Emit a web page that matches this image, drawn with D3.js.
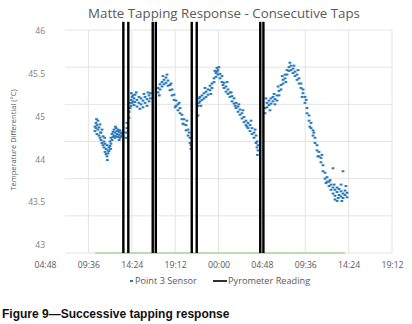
<!DOCTYPE html>
<html>
<head>
<meta charset="utf-8">
<script src="https://cdn.jsdelivr.net/npm/d3@7"></script>
<style>
  body { margin: 0; background: #fff; }
  svg { display: block; }
</style>
</head>
<body>
<script>
// chart values (time in hours from start of day 1, temperature in degC)
var xTickHours = [4.8, 9.6, 14.4, 19.2, 24, 28.8, 33.6, 38.4, 43.2];
var yGridValues = [43, 43.5, 44, 44.5, 45, 45.5, 46];
var yTickLabels = ["46", "45.5", "45", "44", "43.5", "43"];

// Pyrometer reading taps (pairs of vertical lines)
var pyroHours = [13.47, 14.02, 16.72, 17.06, 21.04, 21.59, 28.62, 28.97];
var pyroRange = [43, 46.11];

// green base line
var baseHours = [10.33, 38.0];
var baseValue = 43;

// Point 3 Sensor readings [hour, degC]
var sensorPoints = [
  [10.33, 44.70], [10.33, 44.64], [10.44, 44.75], [10.44, 44.68], [10.55, 44.72], [10.55, 44.60],
  [10.66, 44.78], [10.66, 44.66], [10.77, 44.69], [10.77, 44.58], [10.89, 44.73], [10.89, 44.55],
  [11.00, 44.62], [11.00, 44.52], [11.11, 44.66], [11.11, 44.48], [11.22, 44.57], [11.22, 44.45],
  [11.33, 44.50], [11.33, 44.42], [11.44, 44.47], [11.44, 44.36], [11.55, 44.40], [11.55, 44.33],
  [11.66, 44.45], [11.66, 44.30], [11.77, 44.38], [11.77, 44.34], [11.88, 44.42], [11.88, 44.37],
  [11.99, 44.50], [11.99, 44.44], [12.10, 44.55], [12.10, 44.47], [12.22, 44.60], [12.22, 44.52],
  [12.33, 44.63], [12.33, 44.56], [12.44, 44.58], [12.44, 44.66], [12.55, 44.62], [12.55, 44.55],
  [12.66, 44.68], [12.66, 44.57], [12.77, 44.60], [12.77, 44.64], [12.88, 44.66], [12.88, 44.56],
  [12.99, 44.59], [12.99, 44.63], [13.10, 44.65], [13.10, 44.55], [13.21, 44.61], [13.21, 44.57],
  [13.32, 44.58], [13.32, 44.62], [13.76, 44.55], [13.76, 44.62], [13.87, 44.68], [13.87, 44.75],
  [14.10, 44.82], [14.10, 44.90], [14.21, 44.95], [14.21, 45.02], [14.32, 45.06], [14.32, 44.98],
  [14.43, 45.10], [14.43, 45.02], [14.54, 45.04], [14.54, 45.12], [14.65, 45.08], [14.65, 44.99],
  [14.76, 45.13], [14.76, 45.03], [14.98, 45.06], [14.98, 44.97], [15.20, 45.10], [15.20, 45.02],
  [15.42, 45.00], [15.42, 45.08], [15.64, 45.05], [15.64, 44.96], [15.87, 45.02], [15.87, 45.10],
  [16.09, 45.07], [16.09, 44.98], [16.31, 45.12], [16.31, 45.04], [16.47, 45.15], [16.47, 45.08],
  [17.31, 45.16], [17.31, 45.22], [17.53, 45.20], [17.53, 45.27], [17.75, 45.30], [17.75, 45.24],
  [17.97, 45.33], [17.97, 45.27], [18.19, 45.36], [18.19, 45.29], [18.41, 45.32], [18.41, 45.25],
  [18.63, 45.26], [18.63, 45.19], [18.86, 45.20], [18.86, 45.12], [19.08, 45.13], [19.08, 45.06],
  [19.30, 45.05], [19.30, 44.98], [19.52, 45.00], [19.52, 44.92], [19.74, 44.95], [19.74, 44.88],
  [19.96, 44.86], [19.96, 44.80], [20.18, 44.80], [20.18, 44.73], [20.41, 44.72], [20.41, 44.65],
  [20.63, 44.66], [20.63, 44.58], [20.85, 44.55], [20.85, 44.48], [20.96, 44.45], [20.96, 44.40],
  [21.73, 44.85], [21.73, 44.98], [21.84, 45.02], [21.84, 45.08], [21.95, 45.10], [21.95, 45.04],
  [22.18, 45.12], [22.18, 45.06], [22.40, 45.15], [22.40, 45.08], [22.62, 45.10], [22.62, 45.17],
  [22.84, 45.13], [22.84, 45.20], [23.06, 45.19], [23.06, 45.25], [23.28, 45.28], [23.28, 45.22],
  [23.50, 45.35], [23.50, 45.30], [23.72, 45.42], [23.72, 45.37], [23.83, 45.49], [23.83, 45.44],
  [23.94, 45.46], [23.94, 45.40], [24.17, 45.41], [24.17, 45.35], [24.39, 45.38], [24.39, 45.30],
  [24.61, 45.29], [24.61, 45.22], [24.83, 45.24], [24.83, 45.17], [25.05, 45.20], [25.05, 45.14],
  [25.27, 45.16], [25.27, 45.10], [25.50, 45.11], [25.50, 45.04], [25.72, 45.08], [25.72, 45.01],
  [25.94, 45.02], [25.94, 44.95], [26.16, 44.97], [26.16, 44.90], [26.38, 44.93], [26.38, 44.86],
  [26.60, 44.88], [26.60, 44.81], [26.82, 44.83], [26.82, 44.76], [27.04, 44.78], [27.04, 44.72],
  [27.27, 44.75], [27.27, 44.68], [27.49, 44.72], [27.49, 44.64], [27.71, 44.68], [27.71, 44.60],
  [27.93, 44.62], [27.93, 44.55], [28.15, 44.58], [28.15, 44.48], [28.26, 44.50], [28.26, 44.42],
  [28.37, 44.45], [28.37, 44.38], [29.15, 44.88], [29.15, 44.95], [29.37, 45.02], [29.37, 44.96],
  [29.59, 45.05], [29.59, 44.99], [29.81, 45.08], [29.81, 45.01], [30.03, 45.04], [30.03, 45.10],
  [30.25, 45.07], [30.25, 45.00], [30.47, 45.12], [30.47, 45.05], [30.70, 45.18], [30.70, 45.12],
  [30.92, 45.26], [30.92, 45.20], [31.14, 45.33], [31.14, 45.28], [31.36, 45.40], [31.36, 45.35],
  [31.58, 45.46], [31.58, 45.40], [31.80, 45.50], [31.80, 45.45], [32.02, 45.52], [32.02, 45.46],
  [32.25, 45.48], [32.25, 45.42], [32.47, 45.44], [32.47, 45.38], [32.69, 45.40], [32.69, 45.33],
  [32.91, 45.35], [32.91, 45.28], [33.13, 45.28], [33.13, 45.22], [33.35, 45.20], [33.35, 45.15],
  [33.57, 45.10], [33.57, 45.02], [33.79, 44.95], [33.79, 44.88], [34.02, 44.85], [34.02, 44.78],
  [34.24, 44.75], [34.24, 44.68], [34.46, 44.65], [34.46, 44.58], [34.68, 44.55], [34.68, 44.48],
  [34.90, 44.45], [34.90, 44.38], [35.12, 44.36], [35.12, 44.30], [35.34, 44.28], [35.34, 44.22],
  [35.56, 44.18], [35.56, 44.10], [35.79, 44.08], [35.79, 44.00], [36.01, 44.02], [36.01, 43.96],
  [36.23, 43.96], [36.23, 43.90], [36.45, 43.92], [36.45, 43.85], [36.67, 43.88], [36.67, 43.80],
  [36.67, 44.14], [36.89, 43.85], [36.89, 43.77], [36.89, 43.72], [37.12, 43.82], [37.12, 43.88],
  [37.12, 43.70], [37.34, 43.86], [37.34, 43.78], [37.56, 43.83], [37.56, 43.76], [37.56, 43.92],
  [37.78, 43.80], [37.78, 43.74], [37.78, 44.10], [38.00, 43.78], [38.00, 43.84], [38.22, 43.81],
  [38.22, 43.75],
  // extra scattered readings
  [10.50, 44.80], [10.95, 44.62], [11.40, 44.55], [11.70, 44.25], [12.05, 44.40], [12.60, 44.70],
  [13.00, 44.52], [14.35, 45.15], [14.90, 45.16], [15.30, 44.94], [15.75, 45.14], [16.20, 45.16],
  [17.45, 45.12], [17.85, 45.38], [18.30, 45.40], [18.75, 45.28], [19.20, 44.96], [19.65, 45.02],
  [20.05, 44.74], [20.50, 44.78], [20.75, 44.62], [22.05, 44.98], [22.50, 45.22], [23.15, 45.14],
  [23.60, 45.45], [24.05, 45.50], [24.50, 45.26], [24.95, 45.30], [25.40, 45.16], [25.85, 44.98],
  [26.25, 45.00], [26.70, 44.92], [27.15, 44.70], [27.60, 44.78], [28.05, 44.66], [28.30, 44.32],
  [29.25, 45.08], [29.70, 44.92], [30.15, 45.14], [30.60, 45.24], [31.05, 45.38], [31.45, 45.30],
  [31.90, 45.56], [32.35, 45.52], [32.80, 45.46], [33.25, 45.10], [33.70, 45.06], [34.10, 44.70],
  [34.55, 44.62], [35.00, 44.30], [35.45, 44.32], [35.90, 43.94], [36.35, 43.98], [36.80, 43.92],
  [37.25, 43.74], [37.65, 43.70], [38.10, 43.90]
];

// layout
var W = 412, H = 324;
var plotLeft = 65, plotRight = 392, plotTop = 30, plotBottom = 253;
var textGray = "#595959";

// scales
var x = d3.scaleLinear().domain([4.8, 43.2]).range([45, plotRight]);
var y = d3.scaleLinear().domain([43, 46]).range([plotBottom, plotTop]);
var yLabelPos = d3.scalePoint().domain(yTickLabels).range([31, 245]);

function hhmm(h) {
  var m = Math.round(h * 60) % 1440;
  return d3.format("02")(Math.floor(m / 60)) + ":" + d3.format("02")(m % 60);
}

var svg = d3.select("body").append("svg")
    .attr("width", W)
    .attr("height", H);

// gridlines
svg.append("g")
  .selectAll("line")
  .data(yGridValues)
  .enter().append("line")
  .attr("x1", plotLeft).attr("x2", plotRight)
  .attr("y1", function(d) { return y(d); })
  .attr("y2", function(d) { return y(d); })
  .attr("stroke", "#e4e4e4").attr("stroke-width", 1);

svg.append("g")
  .selectAll("line")
  .data(xTickHours.filter(function(d) { return x(d) > plotLeft; }))
  .enter().append("line")
  .attr("x1", function(d) { return x(d); })
  .attr("x2", function(d) { return x(d); })
  .attr("y1", plotTop).attr("y2", plotBottom)
  .attr("stroke", "#e4e4e4").attr("stroke-width", 1);

// green base line
svg.append("line")
  .attr("x1", x(baseHours[0])).attr("x2", x(baseHours[1]))
  .attr("y1", y(baseValue)).attr("y2", y(baseValue))
  .attr("stroke", "#8cc47a").attr("stroke-width", 1.2);

// sensor points (dash markers)
svg.append("g")
  .selectAll("rect")
  .data(sensorPoints)
  .enter().append("rect")
  .attr("x", function(d) { return x(d[0]) - 1.4; })
  .attr("y", function(d) { return y(d[1]) - 1; })
  .attr("width", 2.8)
  .attr("height", 2)
  .attr("fill", "#2a7ab9");

// pyrometer lines
svg.append("g")
  .selectAll("line")
  .data(pyroHours)
  .enter().append("line")
  .attr("x1", function(d) { return x(d); })
  .attr("x2", function(d) { return x(d); })
  .attr("y1", y(pyroRange[0]))
  .attr("y2", y(pyroRange[1]))
  .attr("stroke", "#000").attr("stroke-width", 2.4);

// title
svg.append("text")
  .attr("x", 224).attr("y", 18)
  .attr("text-anchor", "middle")
  .attr("font-family", "Open Sans, sans-serif")
  .attr("font-size", "13.3px")
  .attr("fill", textGray)
  .text("Matte Tapping Response - Consecutive Taps");

// y axis labels
var yAxis = d3.axisLeft(yLabelPos).tickSize(0).tickPadding(0);
var gy = svg.append("g")
  .attr("transform", "translate(45,0)")
  .call(yAxis);
gy.select(".domain").remove();
gy.selectAll("text")
  .attr("font-family", "Open Sans, sans-serif")
  .attr("font-size", "8.5px")
  .attr("fill", "#7f7f7f");

// x axis labels
var xAxis = d3.axisBottom(x).tickValues(xTickHours).tickFormat(hhmm).tickSize(0).tickPadding(0);
var gx = svg.append("g")
  .attr("transform", "translate(0,262)")
  .call(xAxis);
gx.select(".domain").remove();
gx.selectAll("text")
  .attr("font-family", "Open Sans, sans-serif")
  .attr("font-size", "8.7px")
  .attr("fill", textGray);

// y axis title
svg.append("text")
  .attr("transform", "translate(16,140) rotate(-90)")
  .attr("text-anchor", "middle")
  .attr("font-family", "Open Sans, sans-serif")
  .attr("font-size", "7.5px")
  .attr("fill", textGray)
  .text("Temperature Differential (°C)");

// legend
var legend = svg.append("g").attr("transform", "translate(0,281)");
legend.append("rect")
  .attr("x", 130).attr("y", -1).attr("width", 3).attr("height", 2)
  .attr("fill", "#2a7ab9");
legend.append("text")
  .attr("x", 135).attr("y", 3)
  .attr("font-family", "Open Sans, sans-serif")
  .attr("font-size", "9.2px")
  .attr("fill", textGray)
  .text("Point 3 Sensor");
legend.append("line")
  .attr("x1", 213).attr("x2", 227).attr("y1", 0).attr("y2", 0)
  .attr("stroke", "#333").attr("stroke-width", 2);
legend.append("text")
  .attr("x", 228).attr("y", 3)
  .attr("font-family", "Open Sans, sans-serif")
  .attr("font-size", "9.2px")
  .attr("fill", textGray)
  .text("Pyrometer Reading");

// caption
svg.append("text")
  .attr("x", 2).attr("y", 318)
  .attr("font-family", "Liberation Sans, Arial, sans-serif")
  .attr("font-weight", "bold")
  .attr("font-size", "12px")
  .attr("fill", "#111")
  .text("Figure 9\u2014Successive tapping response");
</script>
</body>
</html>
